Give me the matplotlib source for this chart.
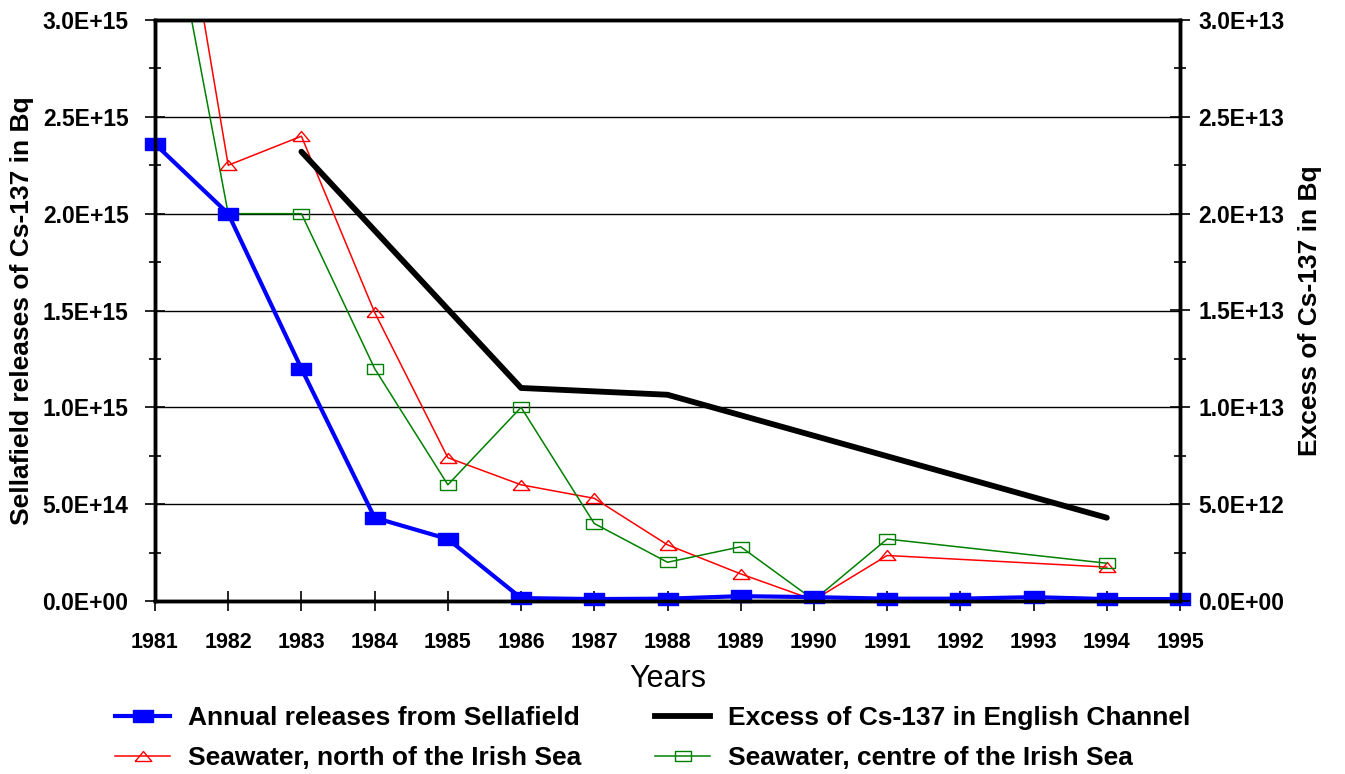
import matplotlib
matplotlib.use("Agg")
import matplotlib.pyplot as plt
import numpy as np
from matplotlib.ticker import FixedLocator, MultipleLocator
from matplotlib.lines import Line2D

plt.rcParams['font.family'] = ['Liberation Sans', 'DejaVu Sans']

years = [1981, 1982, 1983, 1984, 1985, 1986, 1987, 1988, 1989, 1990, 1991, 1992, 1993, 1994, 1995]
sellafield = [2.36e15, 2.0e15, 1.2e15, 0.43e15, 0.32e15, 0.015e15, 0.01e15, 0.012e15, 0.025e15,
              0.02e15, 0.012e15, 0.012e15, 0.02e15, 0.01e15, 0.01e15]

north_years = [1981, 1982, 1983, 1984, 1985, 1986, 1987, 1988, 1989, 1990, 1991, 1994]
north_sea = [4.5e15, 2.25e15, 2.40e15, 1.49e15, 0.74e15, 0.60e15, 0.53e15, 0.29e15, 0.14e15,
             0.005e15, 0.235e15, 0.175e15]

centre_years = [1981, 1982, 1983, 1984, 1985, 1986, 1987, 1988, 1989, 1990, 1991, 1994]
centre_sea = [4.0e15, 2.0e15, 2.0e15, 1.2e15, 0.60e15, 1.0e15, 0.40e15, 0.20e15, 0.28e15,
              0.005e15, 0.32e15, 0.195e15]

channel_years = [1983, 1986, 1988, 1994]
channel = [2.32e13, 1.10e13, 1.065e13, 0.43e13]

left_ticks = [0, 0.5e15, 1.0e15, 1.5e15, 2.0e15, 2.5e15, 3.0e15]
left_labels = ["0.0E+00", "5.0E+14", "1.0E+15", "1.5E+15", "2.0E+15", "2.5E+15", "3.0E+15"]
right_ticks = [0, 0.5e13, 1.0e13, 1.5e13, 2.0e13, 2.5e13, 3.0e13]
right_labels = ["0.0E+00", "5.0E+12", "1.0E+13", "1.5E+13", "2.0E+13", "2.5E+13", "3.0E+13"]

rect = [(-1, -0.55), (1, -0.55), (1, 0.55), (-1, 0.55), (-1, -0.55)]
tri = [(-1, -0.6), (1, -0.6), (0, 0.6), (-1, -0.6)]

fig = plt.figure(figsize=(13.45, 7.74), dpi=100)
ax = fig.add_axes([155/1345, 1-601/774, 1025/1345, 581/774])
ax2 = ax.twinx()

ax.set_xlim(1981, 1995)
ax.set_ylim(0, 3.0e15)
ax2.set_ylim(0, 3.0e13)

ax.yaxis.set_major_locator(FixedLocator(left_ticks))
ax.set_yticklabels(left_labels)
ax.yaxis.set_minor_locator(MultipleLocator(0.25e15))
ax2.yaxis.set_major_locator(FixedLocator(right_ticks))
ax2.set_yticklabels(right_labels)
ax2.yaxis.set_minor_locator(MultipleLocator(0.25e13))
ax.set_xticks(years)
ax.set_xticklabels([str(y) for y in years])

ax.grid(axis='y', which='major', color='black', linewidth=1.0)
ax.set_axisbelow(True)

for a in (ax, ax2):
    for s in a.spines.values():
        s.set_linewidth(2.5)
    a.tick_params(which='major', direction='inout', length=14, width=1.2)
    a.tick_params(which='minor', direction='inout', length=9, width=1.2)
ax.tick_params(axis='x', labelsize=15.5, pad=15)
ax.tick_params(axis='y', labelsize=16.5, pad=12)
ax2.tick_params(axis='y', labelsize=16.5, pad=6)
for a in (ax, ax2):
    for lbl in a.get_yticklabels() + a.get_xticklabels():
        lbl.set_fontweight('bold')

# lines
ax.plot(north_years, north_sea, color='#ff0000', linewidth=1.1, marker=tri, markersize=12,
        markerfacecolor='none', markeredgecolor='#ff0000', markeredgewidth=1.0,
        markevery=list(range(1, len(north_years))), zorder=3)
ax.plot(centre_years, centre_sea, color='#008000', linewidth=1.1, marker=rect, markersize=12,
        markerfacecolor='none', markeredgecolor='#008000', markeredgewidth=1.0,
        markevery=list(range(1, len(centre_years))), zorder=3)
ax.plot(years, sellafield, color='#0000ff', linewidth=3.0, marker=rect, markersize=14.5,
        markerfacecolor='#0000ff', markeredgecolor='#0000ff', clip_on=False, zorder=4)
ax2.plot(channel_years, channel, color='black', linewidth=4.2, solid_capstyle='round')

ax.set_ylabel("Sellafield releases of Cs-137 in Bq", fontsize=19, fontweight='bold', labelpad=6)
ax2.set_ylabel("Excess of Cs-137 in Bq", fontsize=19, fontweight='bold', labelpad=10)
ax.set_xlabel("Years", fontsize=22, labelpad=8)

handles = [
    Line2D([], [], color='#0000ff', linewidth=3.0, marker=rect, markersize=14.5,
           markerfacecolor='#0000ff', markeredgecolor='#0000ff'),
    Line2D([], [], color='#ff0000', linewidth=1.1, marker=tri, markersize=12,
           markerfacecolor='none', markeredgecolor='#ff0000'),
    Line2D([], [], color='black', linewidth=4.2),
    Line2D([], [], color='#008000', linewidth=1.1, marker=rect, markersize=12,
           markerfacecolor='none', markeredgecolor='#008000'),
]
labels = ["Annual releases from Sellafield", "Seawater, north of the Irish Sea",
          "Excess of Cs-137 in English Channel", "Seawater, centre of the Irish Sea"]
fig.legend(handles, labels, ncol=2, loc='center', bbox_to_anchor=(653/1345, 1-738/774),
           frameon=False, prop={'weight': 'bold', 'size': 19}, handlelength=2.08,
           columnspacing=2.8, labelspacing=0.6, handletextpad=0.68)

fig.savefig("out.png", dpi=100)
